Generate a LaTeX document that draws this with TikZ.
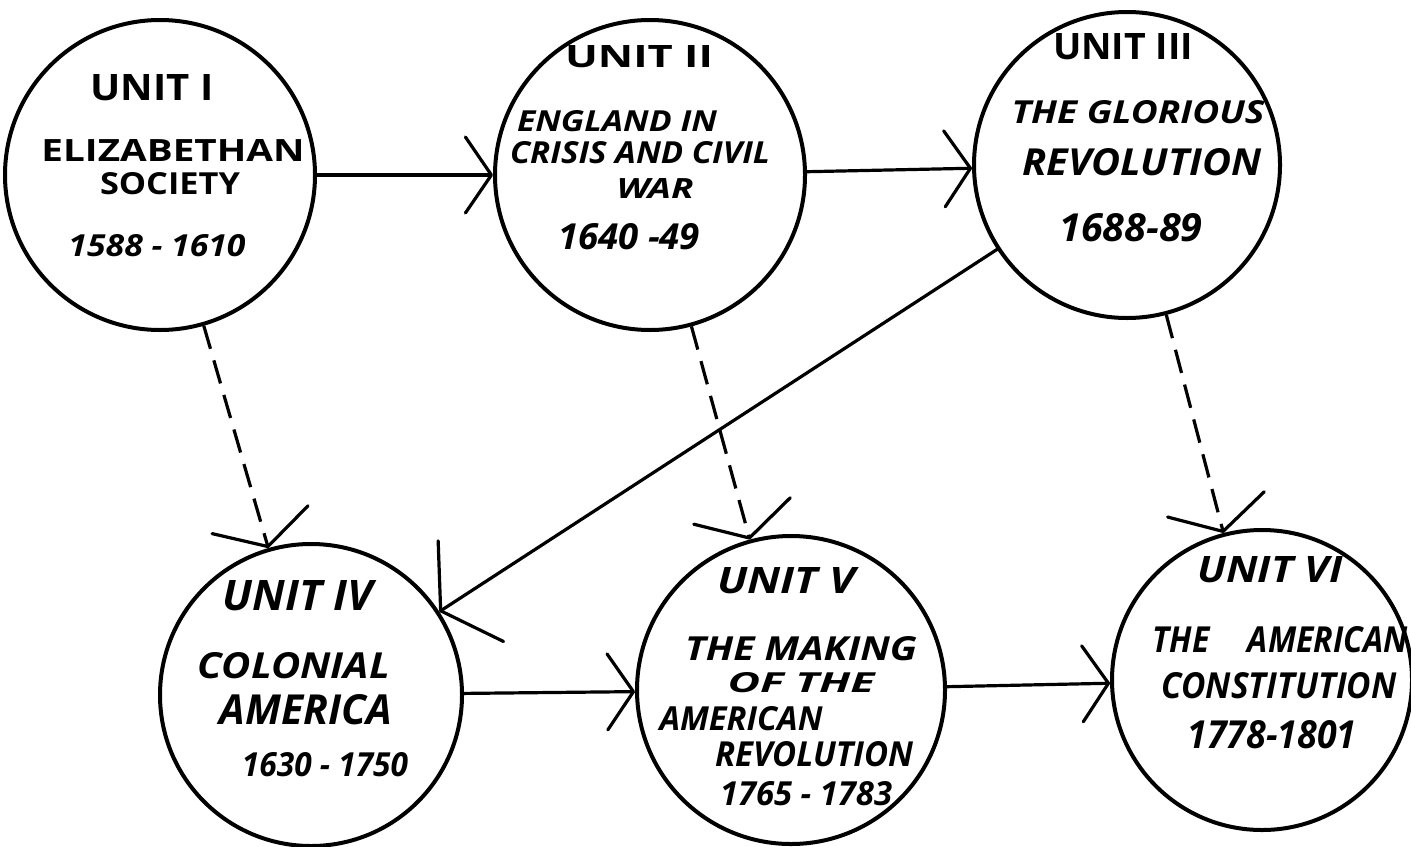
\documentclass[tikz,border=0pt]{standalone}
\usepackage{fontspec}
\usepackage{graphicx}
\setmainfont{Open Sans}
\usetikzlibrary{arrows.meta}
\newlength\unitpx
\setlength\unitpx{0.5pt}
% \hw{width px}{cap height px}{text}
\newcommand\hw[3]{\resizebox{#1\unitpx}{#2\unitpx}{#3}}
\begin{document}
\begin{tikzpicture}[x=0.5pt,y=-0.5pt,
  unit/.style={circle,draw,line width=2pt,minimum size=#1,inner sep=0pt},
  lbl/.style={inner sep=0pt,font=\bfseries},
  lbli/.style={inner sep=0pt,font=\bfseries\itshape},
  solidarr/.style={line width=1.6pt,line cap=round,
    -{Straight Barb[length=13pt,width=38pt,line width=1.6pt,round]}},
  dasharr/.style={line width=1.6pt,dash pattern=on 12pt off 6pt,
    -{Straight Barb[length=14pt,width=50pt,line width=1.6pt,round]}},
  bigarr/.style={line width=1.6pt,line cap=round,
    -{Straight Barb[length=18pt,width=60pt,line width=1.6pt,round]}}
]
\useasboundingbox (0,0) rectangle (1411,846);
\fill[white] (0,0) rectangle (1411,846);
% circles
\node[unit=155pt] (c1) at (160,175) {};
\node[unit=155pt] (c2) at (650,175) {};
\node[unit=153pt] (c3) at (1127,165) {};
\node[unit=151pt] (c4) at (311,695) {};
\node[unit=154pt] (c5) at (791,690) {};
\node[unit=150pt] (c6) at (1262,680) {};
% unit I
\node[lbl] (t1) at (152,88) {\hw{123}{26}{UNIT I}};
\node[lbl] (t1b) at (173,150) {\hw{263}{22}{ELIZABETHAN}};
\node[lbl] (t1c) at (170,184) {\hw{140}{22}{SOCIETY}};
\node[lbli] (t1d) at (157,246) {\hw{177}{22}{1588 - 1610}};
% unit II
\node[lbl] (t2) at (639,57) {\hw{148}{22}{UNIT II}};
\node[lbli] (t2b) at (617,121) {\hw{200}{21}{ENGLAND IN}};
\node[lbli] (t2c) at (640,153) {\hw{260}{22}{CRISIS AND CIVIL}};
\node[lbli] (t2d) at (655,188) {\hw{77}{20}{WAR}};
\node[lbli] (t2e) at (629,237) {\hw{142}{26}{1640 -49}};
% unit III
\node[lbl] (t3) at (1123,47) {\hw{140}{26}{UNIT III}};
\node[lbli] (t3b) at (1138,112) {\hw{253}{23}{THE GLORIOUS}};
\node[lbli] (t3c) at (1142,162) {\hw{239}{27}{REVOLUTION}};
\node[lbli] (t3d) at (1131,228) {\hw{143}{28}{1688-89}};
% unit IV
\node[lbli] (t4) at (298,596) {\hw{150}{30}{UNIT IV}};
\node[lbli] (t4b) at (294,666) {\hw{192}{26}{COLONIAL}};
\node[lbli] (t4c) at (306,710) {\hw{172}{30}{AMERICA}};
\node[lbli] (t4d) at (325,765) {\hw{166}{24}{1630 - 1750}};
% unit V
\node[lbli] (t5) at (786,581) {\hw{138}{26}{UNIT V}};
\node[lbli] (t5b) at (801,649) {\hw{232}{24}{THE MAKING}};
\node[lbli] (t5c) at (801,683) {\hw{147}{20}{OF THE}};
\node[lbli] (t5d) at (741,719) {\hw{163}{24}{AMERICAN}};
\node[lbli] (t5e) at (814,754) {\hw{198}{25}{REVOLUTION}};
\node[lbli] (t5f) at (806,794) {\hw{172}{24}{1765 - 1783}};
% unit VI
\node[lbli] (t6) at (1270,570) {\hw{145}{26}{UNIT VI}};
\node[lbli] (t6b) at (1280,640) {\hw{255}{26}{THE\hspace{1.2em}AMERICAN}};
\node[lbli] (t6c) at (1279,686) {\hw{235}{26}{CONSTITUTION}};
\node[lbli] (t6d) at (1272,735) {\hw{169}{28}{1778-1801}};
% connectors
\draw[solidarr] (c1) -- (c2);
\draw[solidarr] (c2) -- (c3);
\draw[solidarr] (c4) -- (c5);
\draw[solidarr] (c5) -- (c6);
\draw[bigarr] (c3) -- (c4);
\draw[dasharr] (c1) -- (c4);
\draw[dasharr] (c2) -- (c5);
\draw[dasharr] (c3) -- (c6);
\end{tikzpicture}
\end{document}
